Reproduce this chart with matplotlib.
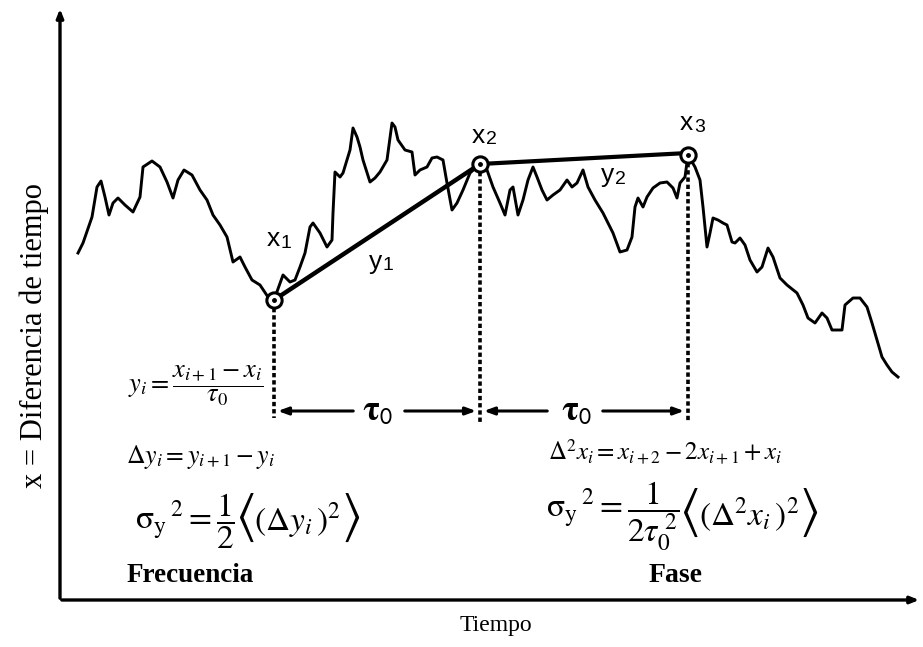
import matplotlib
matplotlib.use("Agg")
import matplotlib.pyplot as plt

plt.rcParams["mathtext.fontset"] = "stix"
plt.rcParams["font.family"] = ["Liberation Serif", "DejaVu Serif"]

# Trace of the phase curve (pixel units, y grows downwards)
tiempo = [78, 83, 92, 97, 101, 105, 109, 113, 118, 125, 133, 140, 143, 152, 160, 167, 173, 178,
          184, 192, 200, 207, 213, 220, 227, 233, 240, 245, 252, 260, 268, 274,
          283, 290, 295, 300, 305, 310, 313, 320, 327, 332, 333, 335, 340, 343, 347, 350, 353,
          357, 360, 363, 370, 375, 380, 387, 392, 395, 398, 405, 412, 415, 420, 427, 432, 437,
          443, 447, 452, 457, 463, 470, 480,
          487, 493, 500, 505, 510, 513, 518, 523, 528, 533, 537, 542, 547, 553, 560, 567, 572,
          577, 583, 588, 595, 603, 613, 620, 627, 632, 635, 638, 643, 647, 653, 660, 667, 673,
          677, 680, 685, 688,
          695, 700, 703, 707, 710, 713, 718, 723, 727, 732, 735, 740, 745, 750, 757, 762, 768,
          773, 780, 787, 797, 803, 808, 815, 822, 827, 832, 842, 845, 853, 860, 867, 872, 877,
          882, 887, 892, 898]
fase = [253, 243, 217, 187, 181, 197, 215, 203, 198, 205, 212, 197, 167, 161, 167, 182, 198, 180,
        170, 175, 190, 200, 215, 225, 237, 262, 257, 267, 280, 285, 297, 300,
        275, 282, 280, 267, 253, 227, 223, 233, 247, 240, 213, 172, 177, 173, 160, 150, 128,
        137, 147, 160, 182, 178, 172, 160, 123, 127, 140, 150, 152, 175, 170, 167, 158, 157,
        160, 183, 210, 203, 190, 173, 164,
        170, 187, 203, 215, 190, 187, 215, 200, 180, 167, 177, 190, 200, 195, 190, 180, 187,
        183, 170, 187, 200, 213, 233, 252, 250, 237, 207, 198, 207, 197, 188, 183, 182, 188,
        198, 183, 177, 155,
        167, 180, 207, 247, 233, 218, 220, 223, 225, 242, 243, 238, 245, 260, 272, 267, 248,
        257, 278, 285, 293, 305, 318, 323, 313, 318, 330, 330, 305, 298, 298, 307, 323, 340,
        357, 365, 372, 377]

# sample points x1, x2, x3
muestras_t = [274, 480, 688]
muestras_x = [300, 164, 155]
etiquetas = ["x", "x", "x", "y", "y"]
subindices = ["1", "2", "3", "1", "2"]

fig = plt.figure(figsize=(9.23, 6.47), dpi=100)
ax = fig.add_axes([0, 0, 1, 1])
ax.set_xlim(0, 923)
ax.set_ylim(647, 0)
ax.axis("off")

# axes with arrows
ax.annotate("", xy=(60, 6), xytext=(60, 601),
            arrowprops=dict(arrowstyle="-|>,head_length=0.5,head_width=0.2", lw=2.4, color="black"))
ax.annotate("", xy=(922, 600), xytext=(59, 600),
            arrowprops=dict(arrowstyle="-|>,head_length=0.5,head_width=0.2", lw=2.4, color="black"))

ax.plot(tiempo, fase, color="black", lw=2.1, solid_joinstyle="round")

# y1, y2 segments
ax.plot(muestras_t[:2], muestras_x[:2], color="black", lw=3.2, solid_capstyle="round")
ax.plot(muestras_t[1:], [muestras_x[1], 153], color="black", lw=3.0, solid_capstyle="round")

ax.plot(muestras_t, muestras_x, "o", ms=11, mfc="white", mec="black", mew=2.2)
ax.plot(muestras_t, muestras_x, ".", ms=5, color="black")

# dotted verticals
fondos = [418, 424, 422]
for t, x, b in zip(muestras_t, muestras_x, fondos):
    ax.plot([t, t], [x + 8, b], color="black", lw=2.6, ls=(0, (1.2, 0.8)))

# tau0 arrows
flecha = dict(arrowstyle="-|>,head_length=0.6,head_width=0.22", lw=2.2, color="black")
ax.annotate("", xy=(275, 411), xytext=(356, 411), arrowprops=flecha)
ax.annotate("", xy=(479, 411), xytext=(402, 411), arrowprops=flecha)
ax.annotate("", xy=(481, 411), xytext=(550, 411), arrowprops=flecha)
ax.annotate("", xy=(687, 411), xytext=(600, 411), arrowprops=flecha)
for xc in [378, 577]:
    ax.text(xc, 412, r"$\mathbf{\tau}_{\mathsf{0}}$", fontsize=25, ha="center", va="center")

# labels on curve
pos = [(267, 239), (472, 136), (680, 123), (369, 262), (601, 175)]
for (px, py), lab, sub in zip(pos, etiquetas, subindices):
    ax.text(px, py, lab, fontsize=19, family="Liberation Sans", ha="left", va="center")
    ax.text(px + 14, py + 4, sub, fontsize=14, family="Liberation Sans", ha="left", va="center")

# formulas
ax.text(128, 386, r"$y_i = \dfrac{x_{i+1} - x_i}{\tau_0}$", fontsize=19, ha="left", va="center")
ax.text(126, 457, r"$\Delta y_i = y_{i+1} - y_i$", fontsize=18.5, ha="left", va="center")
ax.text(548, 452, r"$\Delta^2 x_i = x_{i+2} - 2x_{i+1} + x_i$", fontsize=18, ha="left", va="center")

renderer = fig.canvas.get_renderer()


def right_edge(txt):
    bb = txt.get_window_extent(renderer)
    return ax.transData.inverted().transform((bb.x1, bb.y0))[0]


def sigma_formula(x0, y0, lhs, inner):
    # lhs with the fraction, then tall angle brackets around the inner term
    t = ax.text(x0, y0, lhs, fontsize=24, ha="left", va="center")
    b1 = ax.text(right_edge(t), y0 - 3, r"$\langle$", fontsize=38, ha="left", va="center")
    c = ax.text(right_edge(b1), y0 - 1, inner, fontsize=24, ha="left", va="center")
    ax.text(right_edge(c), y0 - 3, r"$\rangle$", fontsize=38, ha="left", va="center")


sigma_formula(135, 521, r"$\mathrm{\sigma_y}^{\,2} = \dfrac{1}{2}$", r"$(\Delta y_i\,)^2$")
sigma_formula(546, 516, r"$\mathrm{\sigma_y}^{\,2} = \dfrac{1}{2\tau_0^{\;2}}$", r"$(\Delta^2 x_i\,)^2$")

ax.text(190, 575, "Frecuencia", fontsize=19.5, fontweight="bold", ha="center", va="center")
ax.text(676, 576, "Fase", fontsize=20, fontweight="bold", ha="center", va="center")
ax.text(496, 626, "Tiempo", fontsize=17, ha="center", va="center")
ax.text(34, 335, "x = Diferencia de tiempo", fontsize=22, rotation=90, ha="center", va="center")

fig.savefig("out.png", dpi=100)
